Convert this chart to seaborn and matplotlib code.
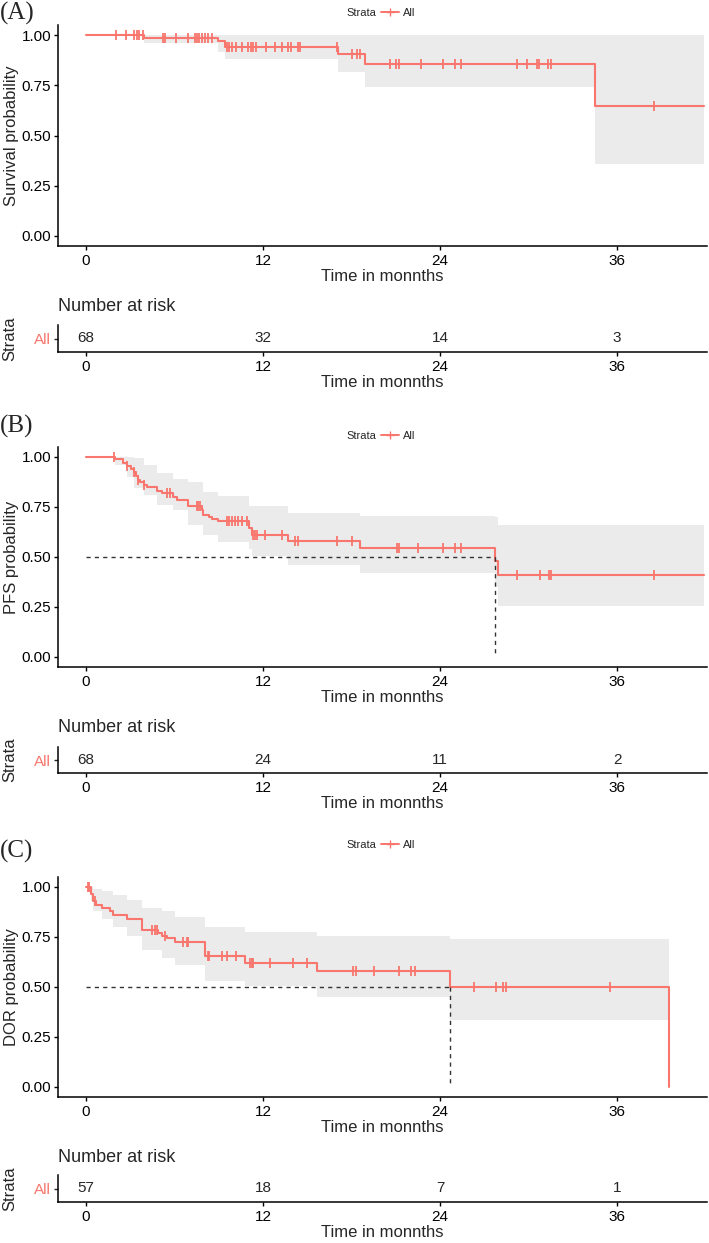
import numpy as np
import matplotlib
matplotlib.use("Agg")
import matplotlib.pyplot as plt
import seaborn as sns
from matplotlib.lines import Line2D

# ---- data ----
risk_times = [0, 12, 24, 36]

# (A) overall survival
os_time = [0, 3.96, 8.93, 9.42, 17.1, 18.9, 34.5, 41.9]
os_surv = [1.0, 0.985, 0.97, 0.94, 0.905, 0.858, 0.645, 0.645]
os_censor = [2.03, 2.71, 3.28, 3.43, 3.59, 3.85, 5.24, 5.36, 6.08, 6.89, 7.39, 7.5,
             7.66, 7.84, 8.07, 8.3, 8.52, 9.54, 9.69, 9.88, 10.2, 10.56, 11.0, 11.19,
             11.35, 11.53, 12.18, 12.81, 13.27, 13.72, 13.9, 14.35, 14.51, 17.0, 18.0,
             18.35, 18.58, 20.6, 21.0, 21.2, 22.7, 24.2, 25.0, 25.4, 29.2, 29.9, 30.6,
             30.7, 31.3, 31.5, 38.5]
os_band_time = [3.96, 8.93, 9.42, 17.1, 18.9, 34.5, 41.9]
os_lower = [0.96, 0.915, 0.883, 0.815, 0.74, 0.36, 0.36]
os_upper = [1.0, 1.0, 1.0, 1.0, 1.0, 1.0, 1.0]
os_risk = [68, 32, 14, 3]

# (B) progression-free survival
pfs_time = [0, 1.97, 2.53, 2.76, 3.05, 3.28, 3.39, 3.5, 3.66, 3.95, 4.11, 4.79, 5.17,
            5.92, 6.15, 6.89, 7.84, 7.96, 8.34, 8.52, 8.97, 11.07, 11.22, 13.7, 18.6,
            27.73, 27.95, 41.9]
pfs_surv = [1.0, 0.99, 0.97, 0.953, 0.942, 0.925, 0.903, 0.887, 0.873, 0.862, 0.848,
            0.828, 0.818, 0.80, 0.787, 0.753, 0.737, 0.712, 0.70, 0.69, 0.682, 0.645,
            0.612, 0.582, 0.545, 0.48, 0.408, 0.408]
pfs_censor = [1.92, 2.76, 3.28, 3.5, 3.95, 5.47, 5.7, 7.5, 7.62, 7.73, 9.54, 9.7, 9.88,
              10.1, 10.3, 10.6, 10.9, 11.35, 11.46, 11.57, 12.1, 13.27, 14.17, 14.35,
              17.0, 18.0, 21.06, 21.2, 22.5, 24.2, 25.0, 25.4, 29.2, 30.8, 31.4, 31.5,
              38.5]
pfs_band_time = [1.97, 2.76, 3.28, 3.95, 4.79, 5.92, 6.89, 7.96, 8.97, 11.07, 11.22,
                 13.7, 18.6, 27.73, 27.95, 41.9]
pfs_lower = [0.96, 0.90, 0.845, 0.812, 0.762, 0.737, 0.662, 0.612, 0.575, 0.54, 0.503,
             0.462, 0.42, 0.35, 0.253, 0.253]
pfs_upper = [1.0, 1.0, 0.995, 0.96, 0.92, 0.89, 0.875, 0.825, 0.803, 0.755, 0.753,
             0.72, 0.703, 0.70, 0.658, 0.658]
pfs_risk = [68, 24, 11, 2]

# (C) duration of response
dor_time = [0, 0.34, 0.45, 0.66, 1.06, 1.63, 1.85, 2.76, 3.82, 4.9, 5.18, 5.47, 6.03,
            8.07, 10.78, 15.64, 24.7, 39.5]
dor_surv = [1.0, 0.965, 0.93, 0.912, 0.895, 0.878, 0.858, 0.84, 0.787, 0.77, 0.753,
            0.745, 0.725, 0.653, 0.62, 0.58, 0.50, 0.0]
dor_censor = [0.1, 0.2, 0.6, 4.45, 4.68, 4.79, 5.36, 6.6, 6.83, 6.94, 8.25, 8.34, 9.2,
              9.54, 10.2, 11.1, 11.23, 11.35, 12.5, 14.0, 15.0, 18.1, 18.3, 19.5, 21.2,
              22.0, 22.3, 26.3, 27.8, 28.3, 28.5, 35.5]
dor_band_time = [0.34, 0.45, 1.06, 1.85, 2.76, 3.82, 5.18, 6.03, 8.07, 10.78, 15.64,
                 24.7, 39.5]
dor_lower = [0.93, 0.88, 0.84, 0.80, 0.753, 0.687, 0.645, 0.612, 0.532, 0.503, 0.448,
             0.337, 0.337]
dor_upper = [1.0, 0.99, 0.978, 0.96, 0.937, 0.895, 0.88, 0.848, 0.798, 0.773, 0.753,
             0.742, 0.742]
dor_risk = [57, 18, 7, 1]

panels = [
    dict(tag="(A)", ylab="Survival probability", time=os_time, surv=os_surv,
         censor=os_censor, bt=os_band_time, lo=os_lower, hi=os_upper, risk=os_risk,
         median=False),
    dict(tag="(B)", ylab="PFS probability", time=pfs_time, surv=pfs_surv,
         censor=pfs_censor, bt=pfs_band_time, lo=pfs_lower, hi=pfs_upper, risk=pfs_risk,
         median=True),
    dict(tag="(C)", ylab="DOR probability", time=dor_time, surv=dor_surv,
         censor=dor_censor, bt=dor_band_time, lo=dor_lower, hi=dor_upper, risk=dor_risk,
         median=True),
]

# pixel layout of each panel (top/bottom of main plot, risk table, labels)
layout = [
    dict(main=(25, 246), risk=(325, 352), tag=13, leg=13, nar=307),
    dict(main=(447, 667), risk=(747, 773), tag=426, leg=436, nar=728),
    dict(main=(877, 1097), risk=(1175, 1202), tag=851, leg=845, nar=1158),
]

RED = "#F8766D"
BAND = "#EBEBEB"
W, H = 709, 1243

sns.set_theme(style="ticks")
plt.rcParams["font.family"] = ["Liberation Sans", "DejaVu Sans"]
plt.rcParams["axes.linewidth"] = 1.1
plt.rcParams["xtick.major.size"] = 3
plt.rcParams["ytick.major.size"] = 3
plt.rcParams["xtick.major.width"] = 1.0
plt.rcParams["ytick.major.width"] = 1.0
plt.rcParams["xtick.major.pad"] = 2.5
plt.rcParams["ytick.major.pad"] = 2

fig = plt.figure(figsize=(W / 100, H / 100), dpi=100)
x0, x1 = 58, 707
xlim = (-1.9, 42.1)


def fig_rect(top, bottom):
    return [x0 / W, 1 - bottom / H, (x1 - x0) / W, (bottom - top) / H]


for p, lay in zip(panels, layout):
    ax = fig.add_axes(fig_rect(*lay["main"]))
    t = np.array(p["time"])
    s = np.array(p["surv"])

    ax.fill_between(p["bt"], p["lo"], p["hi"], step="post", color=BAND, lw=0)
    sns.lineplot(x=t, y=s, ax=ax, drawstyle="steps-post", color=RED, lw=1.5,
                 estimator=None, sort=False)
    c = np.array(p["censor"])
    cy = s[np.searchsorted(t, c, side="right") - 1]
    sns.scatterplot(x=c, y=cy, ax=ax, marker="|", s=50, color=RED, linewidth=1.3)

    if p["median"]:
        med = t[np.argmax(s <= 0.5)]
        ax.plot([0, med], [0.5, 0.5], ls=(0, (3, 3)), color="#333333", lw=1.0)
        ax.plot([med, med], [0.5, 0.0], ls=(0, (3, 3)), color="#333333", lw=1.0)

    ax.set_xlim(*xlim)
    ax.set_ylim(-0.05, 1.05)
    ax.set_xticks(risk_times)
    ax.set_yticks([0, 0.25, 0.5, 0.75, 1.0])
    ax.set_yticklabels(["0.00", "0.25", "0.50", "0.75", "1.00"])
    ax.tick_params(labelsize=11, colors="black")
    ax.set_xlabel("Time in monnths", fontsize=12, labelpad=1)
    ax.set_ylabel(p["ylab"], fontsize=12)
    ax.yaxis.set_label_coords(-0.060, 0.5)
    sns.despine(ax=ax)
    for sp in ax.spines.values():
        sp.set_color("black")

    # legend
    fy = 1 - lay["leg"] / H
    fig.text(376 / W, fy, "Strata", fontsize=8, ha="right", va="center")
    ax.legend(handles=[Line2D([], [], color=RED, lw=1.4, marker="+", markersize=6)],
              labels=["All"], loc="center left", bbox_to_anchor=(381 / W, fy),
              bbox_transform=fig.transFigure, frameon=False, fontsize=8,
              handlelength=1.6, handletextpad=0.4, borderpad=0, borderaxespad=0)

    fig.text(0.0, 1 - lay["tag"] / H, p["tag"], fontsize=18, ha="left", va="center",
             family="Liberation Serif")

    # number at risk table
    rx = fig.add_axes(fig_rect(*lay["risk"]))
    rx.set_xlim(*xlim)
    rx.set_ylim(-0.5, 0.5)
    for tt, n in zip(risk_times, p["risk"]):
        rx.text(tt, 0, str(n), ha="center", va="center", fontsize=11)
    rx.set_xticks(risk_times)
    rx.set_yticks([0])
    rx.set_yticklabels(["All"])
    rx.get_yticklabels()[0].set_color(RED)
    rx.tick_params(labelsize=11)
    rx.tick_params(axis="x", colors="black")
    rx.set_xlabel("Time in monnths", fontsize=12, labelpad=1)
    rx.set_ylabel("Strata", fontsize=12)
    rx.yaxis.set_label_coords(-0.063, 0.5)
    sns.despine(ax=rx)
    for sp in rx.spines.values():
        sp.set_color("black")
    fig.text(x0 / W, 1 - lay["nar"] / H, "Number at risk", fontsize=13,
             ha="left", va="center")

fig.savefig("out.png", dpi=100)
